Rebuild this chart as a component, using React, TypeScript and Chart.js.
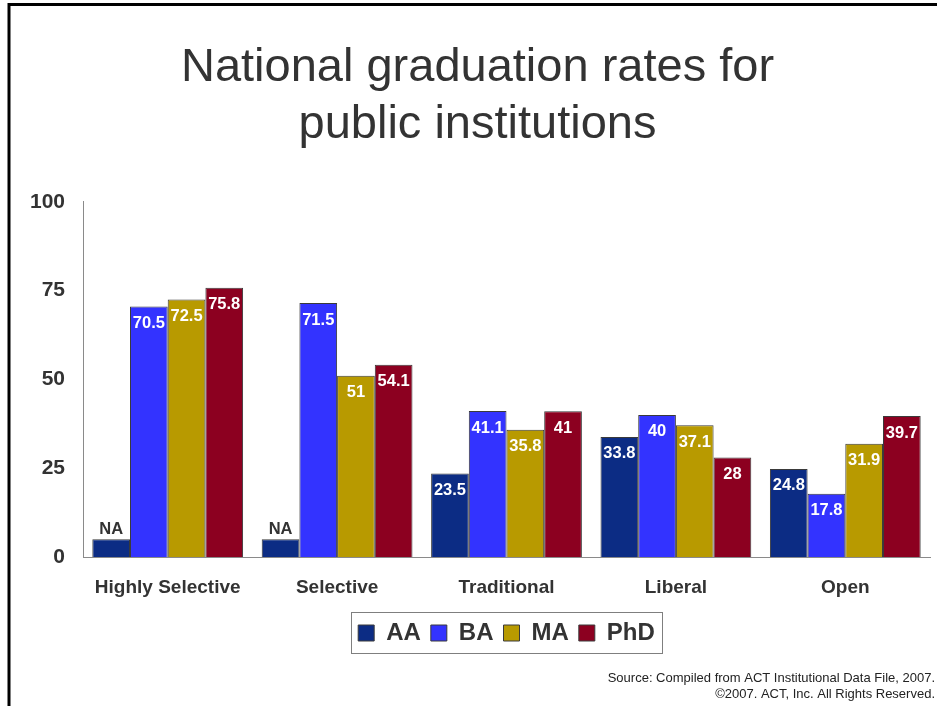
import React, { useEffect, useRef } from "react";
import { Chart, registerables } from "chart.js";

Chart.register(...registerables);

const categories = ["Highly Selective", "Selective", "Traditional", "Liberal", "Open"];
const seriesNames = ["AA", "BA", "MA", "PhD"];
const aaValues: (number | null)[] = [null, null, 23.5, 33.8, 24.8];
const baValues: (number | null)[] = [70.5, 71.5, 41.1, 40, 17.8];
const maValues: (number | null)[] = [72.5, 51, 35.8, 37.1, 31.9];
const phdValues: (number | null)[] = [75.8, 54.1, 41, 28, 39.7];
const naStubValue = 5;
const naLabel = "NA";
const yTickValues = [0, 25, 50, 75, 100];
const titleLines = ["National graduation rates for", "public institutions"];
const sourceLines = [
  "Source: Compiled from ACT Institutional Data File, 2007.",
  "\u00a92007. ACT, Inc. All Rights Reserved.",
];
const seriesColors = ["#0c2c84", "#3333ff", "#b89a00", "#8c0020"];

const FONT = '"Liberation Sans", Arial, Helvetica, sans-serif';
const allSeries = [aaValues, baValues, maValues, phdValues];

const frameAndSourcePlugin = {
  id: "frameAndSource",
  beforeDraw(chart: any) {
    const ctx = chart.ctx;
    ctx.save();
    ctx.fillStyle = "#ffffff";
    ctx.fillRect(0, 0, chart.width, chart.height);
    ctx.restore();
  },
  afterDraw(chart: any) {
    const ctx = chart.ctx;
    ctx.save();
    // slide frame
    ctx.strokeStyle = "#000000";
    ctx.lineWidth = 3;
    ctx.beginPath();
    ctx.moveTo(9, chart.height);
    ctx.lineTo(9, 4.5);
    ctx.lineTo(chart.width, 4.5);
    ctx.stroke();
    // legend box
    const lg = chart.legend;
    if (lg && lg.legendHitBoxes && lg.legendHitBoxes.length) {
      let l = Infinity, r = -Infinity, t = Infinity, b = -Infinity;
      lg.legendHitBoxes.forEach((h: any) => {
        l = Math.min(l, h.left);
        r = Math.max(r, h.left + h.width);
        t = Math.min(t, h.top);
        b = Math.max(b, h.top + h.height);
      });
      ctx.strokeStyle = "#7f7f7f";
      ctx.lineWidth = 1;
      ctx.strokeRect(Math.round(l - 7) + 0.5, Math.round(t - 9) + 0.5, Math.round(r - l + 14), Math.round(b - t + 17));
    }
    // source text
    ctx.fillStyle = "#222222";
    ctx.font = `13px ${FONT}`;
    ctx.textAlign = "right";
    ctx.textBaseline = "middle";
    ctx.fillText(sourceLines[0], 935, 678);
    ctx.fillText(sourceLines[1], 935, 694);
    ctx.restore();
  },
};

const barLabelPlugin = {
  id: "barLabels",
  afterDatasetsDraw(chart: any) {
    const ctx = chart.ctx;
    ctx.save();
    ctx.font = `bold 16.5px ${FONT}`;
    ctx.textAlign = "center";
    ctx.textBaseline = "middle";
    chart.data.datasets.forEach((ds: any, di: number) => {
      const meta = chart.getDatasetMeta(di);
      meta.data.forEach((bar: any, i: number) => {
        const raw = allSeries[di][i];
        if (raw === null) {
          ctx.fillStyle = "#333333";
          ctx.fillText(naLabel, bar.x, bar.y - 10);
        } else {
          ctx.fillStyle = "#ffffff";
          ctx.fillText(String(raw), bar.x, bar.y + 17);
        }
      });
    });
    ctx.restore();
  },
};

export default function App() {
  const canvasRef = useRef<HTMLCanvasElement | null>(null);

  useEffect(() => {
    if (!canvasRef.current) return;
    const chart = new Chart(canvasRef.current, {
      type: "bar",
      data: {
        labels: categories,
        datasets: seriesNames.map((name, i) => ({
          label: name,
          data: allSeries[i].map((v) => (v === null ? naStubValue : v)),
          backgroundColor: seriesColors[i],
          borderColor: "#3a3a3a",
          borderWidth: 1,
          categoryPercentage: 0.89,
          barPercentage: 1.0,
        })),
      },
      options: {
        animation: false,
        responsive: false,
        devicePixelRatio: 1,
        layout: { padding: { left: 25, right: 7, top: 0, bottom: 51 } },
        plugins: {
          title: {
            display: true,
            text: titleLines,
            color: "#333333",
            font: { family: FONT, size: 47, weight: "normal", lineHeight: 1.21 },
            padding: { top: 40, bottom: 48 },
          },
          legend: {
            display: true,
            position: "bottom",
            fullSize: false,
            labels: {
              boxWidth: 16,
              boxHeight: 16,
              padding: 10,
              color: "#333333",
              font: { family: FONT, size: 24, weight: "bold" },
            },
          },
          tooltip: { enabled: false },
        },
        scales: {
          x: {
            grid: { display: false, drawTicks: false },
            border: { display: true, color: "#8a8a8a", width: 1 },
            ticks: {
              color: "#333333",
              font: { family: FONT, size: 19, weight: "bold" },
              padding: 19,
              maxRotation: 0,
            },
            afterFit: (scale: any) => {
              scale.height = 54;
            },
          },
          y: {
            min: 0,
            max: 100,
            grid: { display: false, drawTicks: false },
            border: { display: true, color: "#8a8a8a", width: 1 },
            afterBuildTicks: (scale: any) => {
              scale.ticks = yTickValues.map((v) => ({ value: v }));
            },
            ticks: {
              color: "#333333",
              font: { family: FONT, size: 21, weight: "bold" },
              padding: 18,
            },
            afterFit: (scale: any) => {
              scale.width = 58;
            },
          },
        },
      },
      plugins: [frameAndSourcePlugin, barLabelPlugin],
    } as any);
    return () => chart.destroy();
  }, []);

  return (
    <div style={{ position: "fixed", left: 0, top: 0, width: 937, height: 706, background: "#fff" }}>
      <canvas ref={canvasRef} width={937} height={706} style={{ display: "block", width: 937, height: 706 }} />
    </div>
  );
}
